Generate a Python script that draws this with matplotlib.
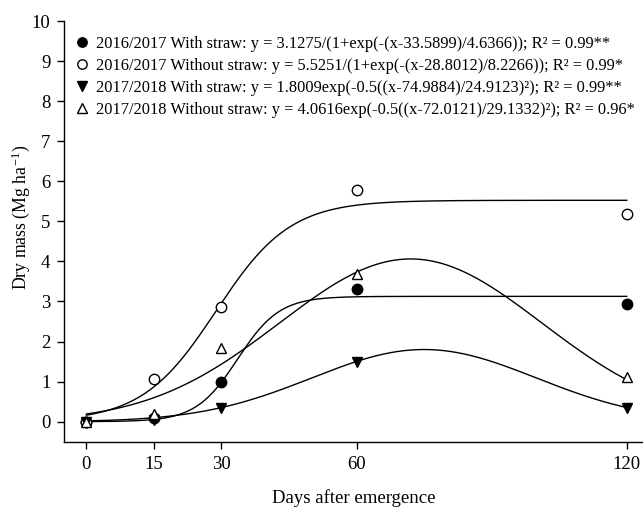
import numpy as np
import matplotlib
matplotlib.use("Agg")
import matplotlib.pyplot as plt

plt.rcParams['font.family'] = ['Liberation Serif', 'DejaVu Serif']
plt.rcParams['mathtext.fontset'] = 'stix'

days = [0, 15, 30, 60, 120]
ws_1617 = [0.0, 0.08, 0.98, 3.32, 2.93]
wo_1617 = [0.0, 1.06, 2.86, 5.79, 5.19]
ws_1718 = [0.0, 0.05, 0.33, 1.48, 0.33]
wo_1718 = [0.0, 0.19, 1.85, 3.69, 1.12]

# fitted model parameters (from the equations in the legend)
logi_ws_1617 = (3.1275, 33.5899, 4.6366)
logi_wo_1617 = (5.5251, 28.8012, 8.2266)
gaus_ws_1718 = (1.8009, 74.9884, 24.9123)
gaus_wo_1718 = (4.0616, 72.0121, 29.1332)

labels = [
    "2016/2017 With straw: y = 3.1275/(1+exp(-(x-33.5899)/4.6366)); R² = 0.99**",
    "2016/2017 Without straw: y = 5.5251/(1+exp(-(x-28.8012)/8.2266)); R² = 0.99*",
    "2017/2018 With straw: y = 1.8009exp(-0.5((x-74.9884)/24.9123)²); R² = 0.99**",
    "2017/2018 Without straw: y = 4.0616exp(-0.5((x-72.0121)/29.1332)²); R² = 0.96*",
]
xticks = [0, 15, 30, 60, 120]
yticks = list(range(0, 11))

def logistic(x, p):
    a, x0, b = p
    return a / (1 + np.exp(-(x - x0) / b))

def gauss(x, p):
    a, x0, b = p
    return a * np.exp(-0.5 * ((x - x0) / b) ** 2)

fig = plt.figure(figsize=(6.43, 5.08), dpi=100)
ax = fig.add_axes([64.3 / 643, 1 - 441.7 / 508, (643 - 64.3) / 643, (441.7 - 21) / 508])

xx = np.linspace(0, 120, 400)
lw = 1.0
ax.plot(xx, logistic(xx, logi_ws_1617), color='black', lw=lw)
ax.plot(xx, logistic(xx, logi_wo_1617), color='black', lw=lw)
ax.plot(xx, gauss(xx, gaus_ws_1718), color='black', lw=lw)
ax.plot(xx, gauss(xx, gaus_wo_1718), color='black', lw=lw)

ms = 7.5
h1, = ax.plot(days, ws_1617, 'o', ls='none', ms=ms, mfc='black', mec='black', label=labels[0], zorder=3)
h2, = ax.plot(days, wo_1617, 'o', ls='none', ms=ms, mfc='white', mec='black', mew=1.0, label=labels[1], zorder=3)
h3, = ax.plot(days, ws_1718, 'v', ls='none', ms=ms, mfc='black', mec='black', label=labels[2], zorder=3)
h4, = ax.plot(days, wo_1718, '^', ls='none', ms=ms, mfc='white', mec='black', mew=1.0, label=labels[3], zorder=3)

ax.set_xlim(-4.9, 123.6)
ax.set_ylim(-0.5, 10)
ax.set_xticks(xticks)
ax.set_yticks(yticks)
ax.tick_params(direction='out', length=5, width=1, labelsize=13.5, pad=5)
ax.spines['top'].set_visible(False)
ax.spines['right'].set_visible(False)
for s in ['left', 'bottom']:
    ax.spines[s].set_linewidth(1.0)

ax.set_xlabel('Days after emergence', fontsize=13.5, labelpad=12)
ax.set_ylabel('Dry mass (Mg ha$^{\\mathregular{-1}}$)', fontsize=12.8)
ax.yaxis.set_label_coords(-0.055, 0.532)

leg = ax.legend(handles=[h1, h2, h3, h4], loc='upper left',
                bbox_to_anchor=(74 / 643, 1 - 36 / 508), bbox_transform=fig.transFigure,
                frameon=False, fontsize=11.8, handlelength=1.0, handletextpad=0.35,
                labelspacing=0.36, borderpad=0, borderaxespad=0, markerscale=0.9)

fig.savefig('out.png', dpi=100)
